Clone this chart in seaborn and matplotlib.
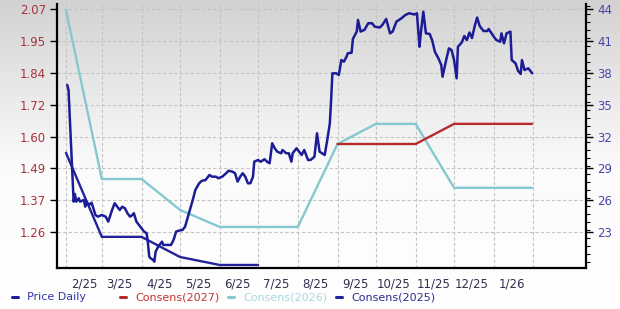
import numpy as np
import pandas as pd
import matplotlib
matplotlib.use("Agg")
import matplotlib.pyplot as plt
import matplotlib.dates as mdates
from matplotlib.lines import Line2D
from matplotlib.ticker import FixedLocator, FixedFormatter, FuncFormatter, MultipleLocator
from matplotlib.colors import LinearSegmentedColormap
import seaborn as sns

# ---------------- data ----------------
start_date = "2025-02-01"
price_day = [1, 2, 6, 7, 8, 10, 11, 14, 15, 16,
             18, 20, 21, 23, 25, 28, 31, 33, 36, 38,
             40, 42, 44, 46, 48, 50, 52, 53, 55, 58,
             61, 63, 64, 65, 66, 68, 69, 70, 72, 74,
             75, 76, 79, 82, 84, 86, 88, 91, 93, 96,
             99, 101, 104, 106, 109, 112, 114, 117, 119, 122,
             125, 127, 130, 132, 134, 136, 138, 140, 142, 144,
             146, 147, 150, 152, 155, 157, 159, 161, 163, 165,
             168, 169, 172, 174, 176, 177, 180, 181, 184, 186,
             189, 191, 194, 196, 198, 200, 202, 204, 206, 207,
             208, 211, 213, 215, 217, 219, 220, 223, 224, 227,
             228, 230, 233, 236, 239, 241, 245, 247, 250, 253,
             255, 258, 262, 265, 268, 272, 274, 276, 277, 279,
             281, 284, 286, 288, 291, 293, 294, 297, 299, 301,
             303, 305, 306, 309, 311, 313, 315, 317, 319, 321,
             323, 326, 329, 330, 334, 336, 339, 340, 342, 344,
             347, 348, 351, 353, 355, 356, 358, 361, 364]
price_daily = [36.85, 36.38, 25.88, 26.60, 25.88, 26.20, 25.88, 26.04, 25.41, 25.88,
               25.57, 25.78, 25.41, 24.63, 24.47, 24.63, 24.47, 24.00, 25.10, 25.73,
               25.41, 25.10, 25.41, 25.26, 24.79, 24.47, 24.63, 24.79, 24.00, 23.53,
               23.06, 22.91, 21.97, 20.71, 20.56, 20.40, 20.24, 21.18, 21.65, 21.97,
               22.12, 21.81, 21.81, 21.81, 22.28, 23.06, 23.15, 23.22, 23.53, 24.79,
               26.04, 26.98, 27.61, 27.83, 27.92, 28.39, 28.23, 28.23, 28.08, 28.23,
               28.55, 28.79, 28.70, 28.55, 27.76, 28.23, 28.55, 28.23, 27.61, 27.61,
               28.23, 29.64, 29.80, 29.64, 29.87, 29.64, 29.49, 31.37, 30.90, 30.58,
               30.43, 30.74, 30.43, 30.43, 29.64, 30.43, 30.90, 30.74, 30.27, 30.74,
               29.80, 29.80, 30.11, 32.31, 30.58, 30.43, 30.27, 31.68, 33.25, 35.44,
               37.95, 37.95, 37.79, 39.20, 39.04, 39.51, 39.83, 39.89, 41.18, 41.87,
               42.97, 41.88, 42.03, 42.66, 42.66, 42.34, 42.26, 42.50, 43.06, 41.71,
               41.87, 42.81, 43.13, 43.44, 43.60, 43.48, 43.60, 40.45, 41.71, 43.75,
               41.71, 41.65, 41.01, 39.98, 39.30, 38.73, 37.63, 39.30, 40.30, 40.14,
               39.20, 37.48, 40.45, 40.85, 41.46, 41.08, 41.79, 41.27, 42.34, 43.20,
               42.40, 41.93, 41.93, 42.12, 41.40, 41.08, 40.92, 41.71, 40.77, 41.71,
               41.87, 39.20, 38.89, 38.17, 37.89, 39.20, 38.26, 38.42, 37.95]

cons2026_dates = ["2025-02-01", "2025-03-01", "2025-04-01", "2025-05-01", "2025-06-01",
                  "2025-07-01", "2025-08-01", "2025-09-01", "2025-10-01", "2025-11-01",
                  "2025-12-01", "2026-01-01", "2026-01-31"]
cons2026 = [2.066, 1.453, 1.453, 1.341, 1.279, 1.279, 1.279, 1.580, 1.653, 1.653,
            1.421, 1.421, 1.421]

cons2027_dates = ["2025-09-01", "2025-10-01", "2025-11-01", "2025-12-01", "2026-01-01",
                  "2026-01-31"]
cons2027 = [1.580, 1.580, 1.580, 1.653, 1.653, 1.653]

cons2025_dates = ["2025-02-01", "2025-03-01", "2025-04-01", "2025-05-01", "2025-06-01",
                  "2025-07-01"]
cons2025 = [1.548, 1.243, 1.243, 1.170, 1.141, 1.141]

left_tick_labels = ["2.07", "1.95", "1.84", "1.72", "1.60", "1.49", "1.37", "1.26"]
right_tick_labels = ["44", "41", "38", "35", "32", "29", "26", "23"]
legend_labels = ["Price Daily", "Consens(2027)", "Consens(2026)", "Consens(2025)"]

# ---------------- styling ----------------
sns.set_style("white")
plt.rcParams["font.family"] = ["DejaVu Sans"]

c_price = "#1c1c96"
c_2027 = "#b52a2a"
c_2026 = "#85c8d2"
c_2025 = "#22229a"
c_left_lbl = "#a8323e"
c_right_lbl = "#4b45a5"
c_x_lbl = "#2e2e4e"

df_price = pd.DataFrame({
    "date": pd.Timestamp(start_date) + pd.to_timedelta(price_day, unit="D"),
    "price": price_daily,
})
df26 = pd.DataFrame({"date": pd.to_datetime(cons2026_dates), "eps": cons2026})
df27 = pd.DataFrame({"date": pd.to_datetime(cons2027_dates), "eps": cons2027})
df25 = pd.DataFrame({"date": pd.to_datetime(cons2025_dates), "eps": cons2025})

fig = plt.figure(figsize=(6.2, 3.09), dpi=100)

# gradient background
bg = fig.add_axes([0, 0, 1, 1], zorder=-10)
grad = np.linspace(0, 1, 300).reshape(-1, 1)
cmap = LinearSegmentedColormap.from_list(
    "bg", [(0.0, "#d2d2d2"), (0.25, "#e6e6e6"), (0.55, "#fbfbfb"), (1.0, "#ffffff")])
bg.imshow(grad, aspect="auto", cmap=cmap, extent=[0, 1, 0, 1], origin="upper")
bg.set_axis_off()

L, R, B, T = 57 / 620, 586 / 620, 1 - 268 / 309, 1 - 4 / 309
ax = fig.add_axes([L, B, R - L, T - B])
ax.patch.set_visible(False)
ax2 = ax.twinx()
ax2.patch.set_visible(False)

sns.lineplot(data=df26, x="date", y="eps", ax=ax, color=c_2026, lw=1.7, zorder=3)
sns.lineplot(data=df27, x="date", y="eps", ax=ax, color=c_2027, lw=1.7, zorder=4)
sns.lineplot(data=df25, x="date", y="eps", ax=ax, color=c_2025, lw=1.7, zorder=4)
sns.lineplot(data=df_price, x="date", y="price", ax=ax2, color=c_price, lw=1.8, zorder=5)

# axes limits
ax.set_xlim(pd.Timestamp("2025-01-25"), pd.Timestamp("2026-03-14"))
ax.set_ylim(1.130, 2.088)
ax2.set_ylim(19.64, 44.47)

# y ticks
left_pos = np.linspace(2.07, 1.26, len(left_tick_labels))
ax.yaxis.set_major_locator(FixedLocator(left_pos))
ax.yaxis.set_major_formatter(FixedFormatter(left_tick_labels))
right_pos = [float(v) for v in right_tick_labels]
ax2.yaxis.set_major_locator(FixedLocator(right_pos))
ax2.yaxis.set_minor_locator(MultipleLocator(0.75))
ax2.set_yticklabels(right_tick_labels)

# x ticks: labels mid-month, grid at month starts
mid_months = pd.date_range("2025-02-01", periods=12, freq="MS") + pd.Timedelta(days=14)
month_starts = pd.date_range("2025-02-01", "2026-02-01", freq="MS")
ax.xaxis.set_major_locator(FixedLocator(mdates.date2num(mid_months)))
ax.xaxis.set_major_formatter(FuncFormatter(
    lambda v, p: f"{mdates.num2date(v).month}/{mdates.num2date(v):%y}"))
ax.xaxis.set_minor_locator(FixedLocator(mdates.date2num(month_starts)))

ax.grid(False)
ax2.grid(False)
ax.grid(True, which="minor", axis="x", color="#c4c4c4", ls=(0, (3, 2)), lw=0.8)
ax.grid(True, which="major", axis="y", color="#c4c4c4", ls=(0, (3, 2)), lw=0.8)

ax.tick_params(axis="x", which="both", length=0, pad=7, labelsize=8.5, labelcolor=c_x_lbl)
ax.tick_params(axis="y", which="major", length=5, width=1, color="black", direction="out",
               pad=3, labelsize=8.5, labelcolor=c_left_lbl, left=True)
ax2.tick_params(axis="y", which="major", length=5, width=1, color="black", direction="out",
                pad=3, labelsize=8.5, labelcolor=c_right_lbl, right=True)
ax2.tick_params(axis="y", which="minor", length=3, width=0.8, color="black",
                direction="out", right=True)

ax.set_xlabel("")
ax.set_ylabel("")
ax2.set_xlabel("")
ax2.set_ylabel("")

for a in (ax, ax2):
    a.spines["top"].set_visible(False)
    for s in ("left", "right", "bottom"):
        a.spines[s].set_color("black")
        a.spines[s].set_linewidth(1.6)
ax.spines["right"].set_visible(False)
ax2.spines["left"].set_visible(False)
ax2.spines["bottom"].set_visible(False)

# legend, fixed-width columns along the bottom
leg_colors = [c_price, c_2027, c_2026, c_2025]
leg_text_colors = ["#3535a8", "#c03434", "#a9d7e0", "#2b2b8f"]
y_leg = 1 - 297 / 309
for i, (lab, lc, tc) in enumerate(zip(legend_labels, leg_colors, leg_text_colors)):
    x0 = (12 + i * 108) / 620
    fig.add_artist(Line2D([x0, x0 + 6 / 620], [y_leg, y_leg], color=lc, lw=2.2,
                          transform=fig.transFigure))
    fig.text(x0 + 15 / 620, y_leg, lab, color=tc, fontsize=8, va="center", ha="left")

fig.savefig("out.png", dpi=100)
